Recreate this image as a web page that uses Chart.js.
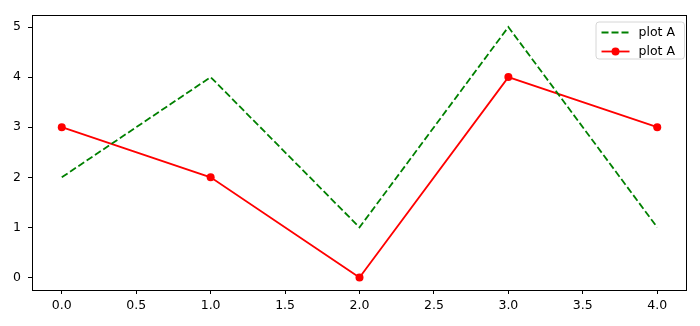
<!DOCTYPE html>
<html>
<head>
<meta charset="utf-8">
<script src="https://cdn.jsdelivr.net/npm/chart.js@4/dist/chart.umd.min.js"></script>
<style>
  body { margin: 0; background: #fff; }
  canvas { display: block; }
</style>
</head>
<body>
<canvas id="chart" width="700" height="326"></canvas>
<script>
const xValues = [0, 1, 2, 3, 4];
const greenValues = [2, 4, 1, 5, 1];
const redValues = [3, 2, 0, 4, 3];
const seriesLabels = ['plot A', 'plot A'];
const xTicks = [0, 0.5, 1, 1.5, 2, 2.5, 3, 3.5, 4];
const yTicks = [0, 1, 2, 3, 4, 5];

const FONT = '12.5px "DejaVu Sans"';

function toPoints(values) {
  return values.map((y, i) => ({ x: xValues[i], y }));
}

// axes frame on all four sides, like matplotlib
const frame = {
  id: 'frame',
  afterDatasetsDraw(chart) {
    const { ctx, chartArea: a } = chart;
    ctx.save();
    ctx.strokeStyle = '#000';
    ctx.lineWidth = 1;
    ctx.strokeRect(Math.round(a.left) + 0.5, Math.round(a.top) + 0.5,
      Math.round(a.right - a.left) - 1, Math.round(a.bottom - a.top) - 1);
    ctx.restore();
  }
};

// legend box drawn inside the plot, top right
const innerLegend = {
  id: 'innerLegend',
  afterDraw(chart) {
    const { ctx, chartArea: a } = chart;
    const sets = chart.data.datasets;
    ctx.save();
    ctx.font = FONT;
    const textW = Math.max(...sets.map(d => ctx.measureText(d.label).width));
    const rowH = 19;
    const w = 6 + 28 + 9 + textW + 9;
    const h = sets.length * rowH - 1;
    const x = a.right - 3 - w;
    const y = a.top + 7;
    ctx.globalAlpha = 0.8;
    ctx.fillStyle = '#fff';
    ctx.beginPath();
    ctx.roundRect(x + 0.5, y + 0.5, w, h, 3);
    ctx.fill();
    ctx.globalAlpha = 1;
    ctx.strokeStyle = '#d6d6d6';
    ctx.lineWidth = 1;
    ctx.stroke();
    sets.forEach((d, i) => {
      const cy = y + 11 + i * rowH;
      const hx = x + 6;
      ctx.strokeStyle = d.borderColor;
      ctx.lineWidth = d.borderWidth;
      ctx.setLineDash(d.borderDash || []);
      ctx.beginPath();
      ctx.moveTo(hx, cy);
      ctx.lineTo(hx + 28, cy);
      ctx.stroke();
      ctx.setLineDash([]);
      if (d.pointRadius > 0) {
        ctx.fillStyle = d.pointBackgroundColor;
        ctx.beginPath();
        ctx.arc(hx + 14, cy, d.pointRadius, 0, Math.PI * 2);
        ctx.fill();
      }
      ctx.fillStyle = '#000';
      ctx.textBaseline = 'middle';
      ctx.textAlign = 'left';
      ctx.fillText(d.label, hx + 37, cy);
    });
    ctx.restore();
  }
};

new Chart(document.getElementById('chart'), {
  type: 'line',
  data: {
    datasets: [
      {
        label: seriesLabels[0],
        data: toPoints(greenValues),
        borderColor: '#008000',
        borderWidth: 1.8,
        borderDash: [7, 3],
        pointRadius: 0,
        tension: 0,
        fill: false
      },
      {
        label: seriesLabels[1],
        data: toPoints(redValues),
        borderColor: '#ff0000',
        borderWidth: 1.8,
        pointRadius: 4,
        pointBackgroundColor: '#ff0000',
        pointBorderColor: '#ff0000',
        pointBorderWidth: 0,
        tension: 0,
        fill: false
      }
    ]
  },
  options: {
    responsive: false,
    animation: false,
    layout: { padding: { left: 0, top: 14, right: 13, bottom: 0 } },
    plugins: {
      legend: { display: false },
      tooltip: { enabled: false }
    },
    scales: {
      x: {
        type: 'linear',
        min: -0.2,
        max: 4.2,
        afterBuildTicks: s => { s.ticks = xTicks.map(v => ({ value: v })); },
        afterFit: s => { s.height = 36; },
        grid: { drawOnChartArea: false, color: '#000', tickLength: 4 },
        border: { display: false },
        ticks: {
          autoSkip: false,
          maxRotation: 0,
          padding: 4,
          color: '#000',
          font: { family: 'DejaVu Sans', size: 12.5 },
          callback: v => v.toFixed(1)
        }
      },
      y: {
        min: -0.25,
        max: 5.25,
        afterBuildTicks: s => { s.ticks = yTicks.map(v => ({ value: v })); },
        afterFit: s => { s.width = 32; },
        grid: { drawOnChartArea: false, color: '#000', tickLength: 4 },
        border: { display: false },
        ticks: {
          autoSkip: false,
          padding: 7,
          color: '#000',
          font: { family: 'DejaVu Sans', size: 12.5 },
          callback: v => String(v)
        }
      }
    }
  },
  plugins: [frame, innerLegend]
});
</script>
</body>
</html>
